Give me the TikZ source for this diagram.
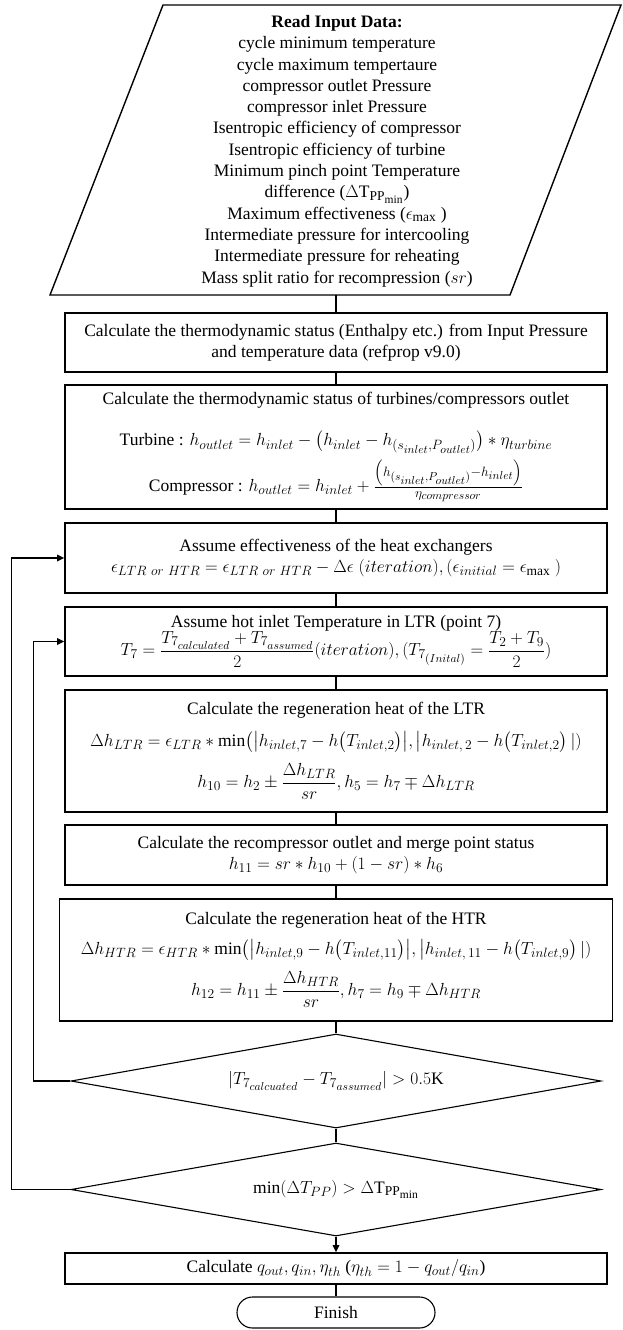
\RequirePackage{fix-cm}
\documentclass[tikz,border=0pt]{standalone}
\usepackage{amsmath}
\usepackage{fontspec}
\setmainfont{Liberation Serif}
\usepackage{tikz}
\usetikzlibrary{arrows.meta,shapes.geometric,shapes.misc,calc}
\DeclareMathSizes{17.5}{17.5}{13.5}{11.5}
\definecolor{ink}{HTML}{000000}
\tikzset{
  >={Triangle[length=7pt,width=6.5pt]},
  every picture/.style={line width=1.6pt,draw=ink,font=\fontsize{17.5}{21.3}\selectfont},
  bx/.style={draw=ink,fill=white,align=center,inner sep=1pt,minimum width=542pt},
  io/.style={draw=ink,line width=1.4pt},
  dec/.style={diamond,draw=ink,line width=1.1pt,aspect=5.6,inner sep=0pt,minimum width=530pt,minimum height=94pt},
  term/.style={rounded rectangle,draw=ink,line width=1.1pt,minimum width=198pt,minimum height=31pt,inner sep=0pt},
  link/.style={draw=ink},
  arr/.style={->,draw=ink},
}

\begin{document}
\begin{tikzpicture}[x=1pt,y=-1pt]
  \useasboundingbox (0,0) rectangle (622,1330);
  \draw[io] (163,5) -- (621,5) -- (510,295) -- (50,295) -- cycle;
  \node[align=center] (input) at (337,151) {\textbf{Read Input Data:}\\cycle minimum temperature\\cycle maximum tempertaure\\compressor outlet Pressure\\compressor inlet Pressure\\Isentropic efficiency of compressor\\Isentropic efficiency of turbine\\Minimum pinch point Temperature\\difference ($\Delta\mathrm{T}_{\mathrm{PP}_{\min}}$)\\Maximum effectiveness ($\epsilon_{\max}$ )\\Intermediate pressure for intercooling\\Intermediate pressure for reheating\\Mass split ratio for recompression ($sr$)};
  \coordinate (inbot) at (336,295);
  \node[bx,minimum height=59pt] (calc1) at (336,342.5) {Calculate the thermodynamic status (Enthalpy etc.) from Input Pressure\\and temperature data (refprop v9.0)};
  \node[bx,minimum height=124pt] (calc2) at (336,447) {Calculate the thermodynamic status of turbines/compressors outlet\\[20pt]
    Turbine : $h_{outlet}=h_{inlet}-\bigl(h_{inlet}-h_{(s_{inlet},P_{outlet})}\bigr)*\eta_{turbine}$\\[6pt]
    Compressor : $h_{outlet}=h_{inlet}+\frac{\left(h_{(s_{inlet},P_{outlet})}-h_{inlet}\right)}{\eta_{compressor}}$};
  \node[bx,minimum height=70pt] (assume1) at (336,558) {Assume effectiveness of the heat exchangers\\
    $\epsilon_{LTR\ or\ HTR}=\epsilon_{LTR\ or\ HTR}-\Delta\epsilon\;(iteration),(\epsilon_{initial}=\epsilon_{\max}\ )$};
  \node[bx,minimum height=69pt] (assume2) at (336,641.5) {Assume hot inlet Temperature in LTR (point 7)\\[-1pt]
    $T_7=\dfrac{T_{7_{calculated}}+T_{7_{assumed}}}{2}(iteration),(T_{7_{(Inital)}}=\dfrac{T_2+T_9}{2})$};
  \node[bx,minimum height=122pt] (ltr) at (336,751) {Calculate the regeneration heat of the LTR\\[10pt]
    $\Delta h_{LTR}=\epsilon_{LTR}*\min\bigl(\bigl|h_{inlet,7}-h\bigl(T_{inlet,2}\bigr)\bigr|,\bigl|h_{inlet,\,2}-h\bigl(T_{inlet,2}\bigr)\,|)$\\[10pt]
    $h_{10}=h_2\pm\dfrac{\Delta h_{LTR}}{sr},h_5=h_7\mp\Delta h_{LTR}$};
  \node[bx,minimum height=60pt] (recomp) at (336,855) {Calculate the recompressor outlet and merge point status\\
    $h_{11}=sr*h_{10}+(1-sr)*h_6$};
  \node[bx,minimum width=553pt,minimum height=122pt] (htr) at (336,960) {Calculate the regeneration heat of the HTR\\[8pt]
    $\Delta h_{HTR}=\epsilon_{HTR}*\min\bigl(\bigl|h_{inlet,9}-h\bigl(T_{inlet,11}\bigr)\bigr|,\bigl|h_{inlet,\,11}-h\bigl(T_{inlet,9}\bigr)\,|)$\\[10pt]
    $h_{12}=h_{11}\pm\dfrac{\Delta h_{HTR}}{sr},h_7=h_9\mp\Delta h_{HTR}$};
  \node[dec] (check1) at (336,1081) {$|T_{7_{calcuated}}-T_{7_{assumed}}|>0.5$K};
  \node[dec,minimum height=93pt] (check2) at (336,1189.5) {$\min(\Delta T_{PP})>\Delta\mathrm{T}_{\mathrm{PP}_{\min}}$};
  \node[bx,minimum height=31pt] (result) at (336,1268.5) {Calculate $q_{out},q_{in},\eta_{th}$ ($\eta_{th}=1-q_{out}/q_{in}$)};
  \node[term] (finish) at (336,1312.5) {Finish};
  \draw[link] (inbot) -- (calc1);
  \draw[link] (calc1) -- (calc2);
  \draw[link] (calc2) -- (assume1);
  \draw[link] (assume1) -- (assume2);
  \draw[link] (assume2) -- (ltr);
  \draw[link] (ltr) -- (recomp);
  \draw[link] (recomp) -- (htr);
  \draw[link] (htr) -- (check1);
  \draw[link] (check1) -- (check2);
  \draw[arr] (check2) -- (result);
  \draw[link] (result) -- (finish);
  \draw[arr] (check1.west) -- ++(-37,0) |- (assume2.west);
  \draw[arr] (check2.west) -- ++(-59,0) |- (assume1.west);
\end{tikzpicture}
\end{document}
